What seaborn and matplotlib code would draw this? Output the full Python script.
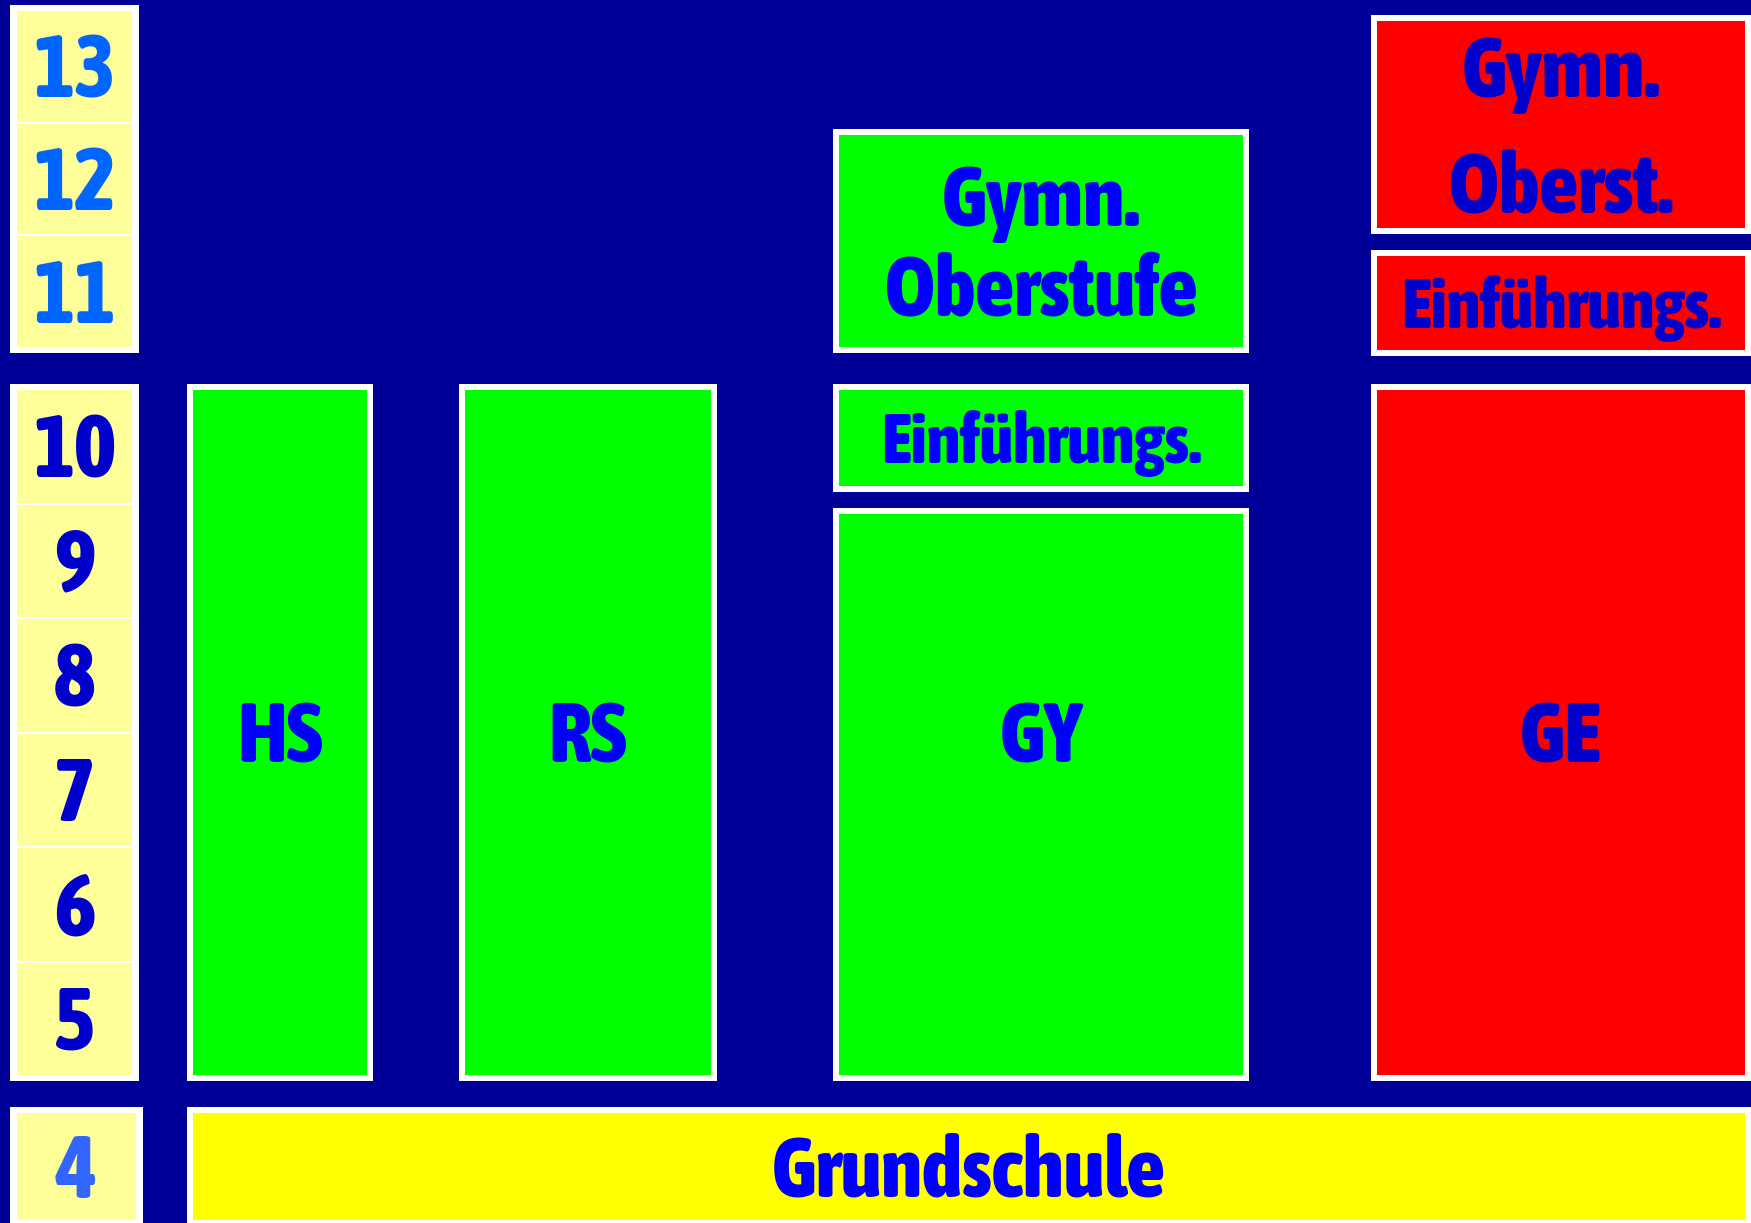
import matplotlib
matplotlib.use("Agg")
import matplotlib.pyplot as plt
import seaborn as sns
from matplotlib import font_manager
from matplotlib.font_manager import FontProperties
from matplotlib.textpath import TextPath

# ========== DATOS ==========
grades_upper = [13, 12, 11]
grades_lower = [10, 9, 8, 7, 6, 5]
grades_primary = [4]

box_labels = ["HS", "RS", "GY", "Einführungs.", "Gymn.\nOberstufe",
              "GE", "Einführungs.", "Gymn.\nOberst.", "Grundschule"]
box_from = [5, 5, 5, 10, 11, 5, 11, 12, 4]
box_to = [10, 10, 9, 10, 12, 10, 11, 13, 4]
box_column = ["HS", "RS", "GY", "GY", "GY", "GE", "GE", "GE", "GS"]
box_kind = ["gruen", "gruen", "gruen", "gruen", "gruen", "rot", "rot", "rot", "gelb"]

# ========== LAYOUT / ESTILO ==========
W, H = 1751, 1223
BG = "#000099"
# (grado arriba, grado abajo, y arriba, y abajo) en pixeles
SECTIONS = [(13, 11, 5, 353), (10, 5, 384, 1081), (4, 4, 1107, 1226)]
# la columna roja arriba esta un poco desplazada
SECTION_OVERRIDE = {"GE": [(13, 11, 15, 356)]}
COLUMNS = {"grade": (10, 139), "grade4": (10, 143), "HS": (187, 373), "RS": (459, 717),
           "GY": (833, 1249), "GE": (1371, 1751), "GS": (187, 1751)}
FILL = {"gruen": "#00FF00", "rot": "#FF0000", "gelb": "#FFFF00"}
TEXT = {"gruen": "#0000FF", "rot": "#0000CC", "gelb": "#0000FF"}
SPACING = {"gruen": 90, "rot": 116, "gelb": 90}
NUM_COLOR = {13: "#0066FF", 10: "#0000CC", 4: "#3366FF"}
BORDER = 6

sns.set_theme(style="white")

# buscar una fuente condensada en negrita (parecida a Impact)
cands = []
for f in font_manager.fontManager.ttflist:
    narrow = f.stretch in ("condensed", "semi-condensed", "extra-condensed", "ultra-condensed") \
        or "Condensed" in f.name or "Narrow" in f.name or "Cond" in f.fname
    w = f.weight if isinstance(f.weight, int) else (700 if "bold" in str(f.weight).lower() else 400)
    if narrow:
        cands.append((abs(w - 800), f.fname))
cands.sort()
if cands:
    FP = FontProperties(fname=cands[0][1])
else:
    FP = FontProperties(family="DejaVu Sans", weight="bold")
plt.rcParams["font.family"] = ["DejaVu Sans"]

CAP = TextPath((0, 0), "H", size=1, prop=FP).get_extents().height


def section_of(g, col=None):
    for s in SECTION_OVERRIDE.get(col, []) + SECTIONS:
        if s[1] <= g <= s[0]:
            return s


def grade_edges(g, col=None):
    top_g, bot_g, yt, yb = section_of(g, col)
    pitch = (yb - yt) / (top_g - bot_g + 1)
    top = yt + (top_g - g) * pitch
    return top, top + pitch


fig = plt.figure(figsize=(W / 100, H / 100), dpi=100)
fig.patch.set_facecolor(BG)
ax = fig.add_axes([0, 0, 1, 1])
ax.set_facecolor(BG)
ax.set_xlim(0, W)
ax.set_ylim(H, 0)
ax.axis("off")


def put_label(text, cx, cy, cap_px, color, spacing, max_w):
    lines = text.split("\n")
    size_px = cap_px / CAP
    # reducir si no cabe
    for line in lines:
        tp = TextPath((0, 0), line, size=size_px, prop=FP).get_extents()
        if tp.width > max_w:
            size_px *= max_w / tp.width
    cap = CAP * size_px
    first = cy + cap / 2 - spacing * (len(lines) - 1) / 2
    for i, line in enumerate(lines):
        ax.text(cx, first + i * spacing, line, ha="center", va="baseline",
                fontproperties=FP, fontsize=size_px * 72 / 100, color=color)


# ========== COLUMNA DE GRADOS ==========
for grades in (grades_upper, grades_lower, grades_primary):
    col = "grade4" if grades == grades_primary else "grade"
    x0, x1 = COLUMNS[col]
    yt = grade_edges(grades[0])[0]
    yb = grade_edges(grades[-1])[1]
    ax.bar(x0, yb - yt, width=x1 - x0, bottom=yt, align="edge", color="white", linewidth=0)
    n = len(grades)
    inner = (yb - yt - 2 * BORDER - 2 * (n - 1)) / n
    for i, g in enumerate(grades):
        ct = yt + BORDER + i * (inner + 2)
        ax.bar(x0 + BORDER + 1, inner, width=x1 - x0 - 2 * BORDER - 2, bottom=ct,
               align="edge", color="#FFFF99", linewidth=0)
        put_label(str(g), (x0 + x1) / 2, ct + inner / 2, 62, NUM_COLOR[grades[0]], 0, 80)

# ========== CAJAS DE ESCUELAS ==========
for lab, g0, g1, col, kind in zip(box_labels, box_from, box_to, box_column, box_kind):
    x0, x1 = COLUMNS[col]
    top = grade_edges(g1, col)[0]
    bot = grade_edges(g0, col)[1]
    s_top, s_bot = section_of(g1, col), section_of(g0, col)
    if top != s_top[2]:
        top += 8
    if bot != s_bot[3]:
        bot -= 8
    ax.bar(x0 + BORDER / 2, bot - top - BORDER, width=x1 - x0 - BORDER, bottom=top + BORDER / 2,
           align="edge", color=FILL[kind], edgecolor="white", linewidth=BORDER * 72 / 100)
    cap = 49 if lab.startswith("Einf") else 60
    if g0 == 5 and col in ("HS", "RS", "GY", "GE"):
        s = section_of(5)
        cy = (s[2] + s[3]) / 2
    else:
        cy = (top + bot) / 2
    max_w = min(x1 - x0 - 2 * BORDER - 50, 390)
    put_label(lab, (x0 + x1) / 2, cy, cap, TEXT[kind], SPACING[kind], max_w)

fig.savefig("out.png", dpi=100, facecolor=BG)
